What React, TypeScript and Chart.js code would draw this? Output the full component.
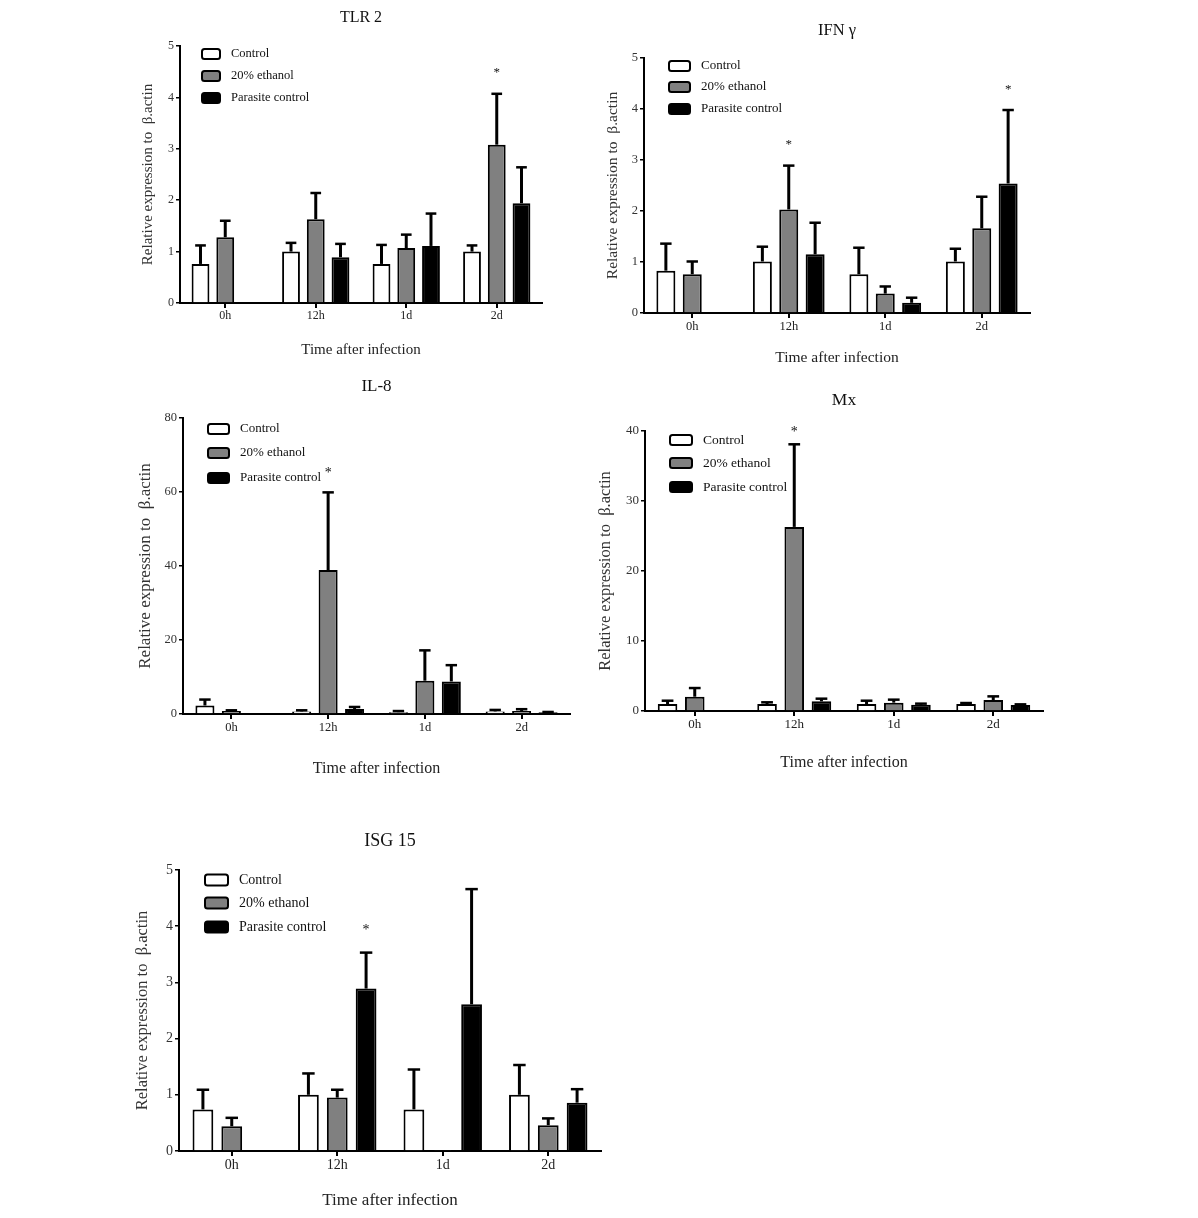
import React, { useEffect, useRef } from 'react';
import { Chart, registerables } from 'chart.js';
Chart.register(...registerables);

const FONT = "'Liberation Serif', 'Times New Roman', Times, serif";

const CATEGORIES = ['0h', '12h', '1d', '2d'];
const SERIES_LABELS = ['Control', '20% ethanol', 'Parasite control'];
const SERIES_COLORS = ['#ffffff', '#808080', '#000000'];
const Y_LABEL = 'Relative expression to  \u03B2.actin';
const X_LABEL = 'Time after infection';

// ---- TLR 2 ----
const TLR2_CONTROL = [0.76, 1.0, 0.76, 1.0];
const TLR2_ETHANOL = [1.28, 1.63, 1.07, 3.08];
const TLR2_PARASITE = [null, 0.89, 1.11, 1.94];
const TLR2_CONTROL_ERR = [1.12, 1.17, 1.13, 1.12];
const TLR2_ETHANOL_ERR = [1.6, 2.14, 1.33, 4.07];
const TLR2_PARASITE_ERR = [null, 1.15, 1.74, 2.64];
const TLR2_STARS = [[3, 1, 4.54]];
const TLR2_Y_MAX = 5;
const TLR2_Y_STEP = 1;

// ---- IFN γ ----
const IFN_CONTROL = [0.83, 1.01, 0.76, 1.01];
const IFN_ETHANOL = [0.76, 2.03, 0.38, 1.66];
const IFN_PARASITE = [null, 1.15, 0.2, 2.54];
const IFN_CONTROL_ERR = [1.36, 1.3, 1.28, 1.26];
const IFN_ETHANOL_ERR = [1.01, 2.89, 0.52, 2.28];
const IFN_PARASITE_ERR = [null, 1.77, 0.3, 3.98];
const IFN_STARS = [[1, 1, 3.36], [3, 2, 4.45]];
const IFN_Y_MAX = 5;
const IFN_Y_STEP = 1;

// ---- IL-8 ----
const IL8_CONTROL = [2.3, 0.7, 0.5, 0.7];
const IL8_ETHANOL = [0.8, 38.9, 9.0, 0.8];
const IL8_PARASITE = [null, 1.35, 8.8, 0.45];
const IL8_CONTROL_ERR = [3.9, 1.0, 0.8, 1.1];
const IL8_ETHANOL_ERR = [1.0, 59.9, 17.2, 1.3];
const IL8_PARASITE_ERR = [null, 1.9, 13.2, 0.55];
const IL8_STARS = [[1, 1, 66]];
const IL8_Y_MAX = 80;
const IL8_Y_STEP = 20;

// ---- Mx ----
const MX_CONTROL = [1.0, 1.0, 1.0, 1.0];
const MX_ETHANOL = [2.04, 26.3, 1.19, 1.57];
const MX_PARASITE = [null, 1.38, 0.9, 0.86];
const MX_CONTROL_ERR = [1.47, 1.24, 1.47, 1.14];
const MX_ETHANOL_ERR = [3.28, 38.1, 1.62, 2.09];
const MX_PARASITE_ERR = [null, 1.76, 1.05, 0.95];
const MX_STARS = [[1, 1, 40.3]];
const MX_Y_MAX = 40;
const MX_Y_STEP = 10;

// ---- ISG 15 ----
const ISG_CONTROL = [0.74, 1.0, 0.74, 1.0];
const ISG_ETHANOL = [0.44, 0.95, 0.02, 0.46];
const ISG_PARASITE = [null, 2.89, 2.61, 0.86];
const ISG_CONTROL_ERR = [1.09, 1.38, 1.45, 1.53];
const ISG_ETHANOL_ERR = [0.59, 1.09, null, 0.58];
const ISG_PARASITE_ERR = [null, 3.53, 4.66, 1.1];
const ISG_STARS = [[1, 2, 3.99]];
const ISG_Y_MAX = 5;
const ISG_Y_STEP = 1;

type Panel = {
  title: string;
  values: (number | null)[][];
  errors: (number | null)[][];
  stars: number[][];
  yMax: number;
  yStep: number;
  geo: { L: number; R: number; T: number; B: number; titleY: number; yLabX: number; xTitleY: number };
  fonts: { title: number; xt: number; yl: number; tick: number; legend: number; star: number };
  legend: { dx: number; boxW: number; boxH: number; textDx: number; rows: number[] };
};

const PANELS: Panel[] = [
  {
    title: 'TLR 2',
    values: [TLR2_CONTROL, TLR2_ETHANOL, TLR2_PARASITE],
    errors: [TLR2_CONTROL_ERR, TLR2_ETHANOL_ERR, TLR2_PARASITE_ERR],
    stars: TLR2_STARS,
    yMax: TLR2_Y_MAX,
    yStep: TLR2_Y_STEP,
    geo: { L: 180, R: 542, T: 46, B: 303, titleY: 18, yLabX: 148, xTitleY: 350 },
    fonts: { title: 16, xt: 15, yl: 15, tick: 12, legend: 12.5, star: 13 },
    legend: { dx: 22, boxW: 18, boxH: 10, textDx: 51, rows: [8, 30, 52] },
  },
  {
    title: 'IFN \u03B3',
    values: [IFN_CONTROL, IFN_ETHANOL, IFN_PARASITE],
    errors: [IFN_CONTROL_ERR, IFN_ETHANOL_ERR, IFN_PARASITE_ERR],
    stars: IFN_STARS,
    yMax: IFN_Y_MAX,
    yStep: IFN_Y_STEP,
    geo: { L: 644, R: 1030, T: 58, B: 313, titleY: 30.5, yLabX: 613, xTitleY: 357.5 },
    fonts: { title: 16.5, xt: 15.5, yl: 15.5, tick: 12.5, legend: 13, star: 13 },
    legend: { dx: 25, boxW: 21, boxH: 10, textDx: 57, rows: [8, 29, 51] },
  },
  {
    title: 'IL-8',
    values: [IL8_CONTROL, IL8_ETHANOL, IL8_PARASITE],
    errors: [IL8_CONTROL_ERR, IL8_ETHANOL_ERR, IL8_PARASITE_ERR],
    stars: IL8_STARS,
    yMax: IL8_Y_MAX,
    yStep: IL8_Y_STEP,
    geo: { L: 183, R: 570, T: 418, B: 714, titleY: 386.5, yLabX: 145, xTitleY: 768.5 },
    fonts: { title: 17, xt: 16, yl: 17, tick: 12.5, legend: 13, star: 14 },
    legend: { dx: 25, boxW: 21, boxH: 10, textDx: 57, rows: [11, 35, 60] },
  },
  {
    title: 'Mx',
    values: [MX_CONTROL, MX_ETHANOL, MX_PARASITE],
    errors: [MX_CONTROL_ERR, MX_ETHANOL_ERR, MX_PARASITE_ERR],
    stars: MX_STARS,
    yMax: MX_Y_MAX,
    yStep: MX_Y_STEP,
    geo: { L: 645, R: 1043, T: 431, B: 711, titleY: 400.5, yLabX: 605.5, xTitleY: 762 },
    fonts: { title: 17.5, xt: 16, yl: 16.5, tick: 13, legend: 13.5, star: 14 },
    legend: { dx: 25, boxW: 22, boxH: 10, textDx: 58, rows: [9, 32, 56] },
  },
  {
    title: 'ISG 15',
    values: [ISG_CONTROL, ISG_ETHANOL, ISG_PARASITE],
    errors: [ISG_CONTROL_ERR, ISG_ETHANOL_ERR, ISG_PARASITE_ERR],
    stars: ISG_STARS,
    yMax: ISG_Y_MAX,
    yStep: ISG_Y_STEP,
    geo: { L: 179, R: 601, T: 870, B: 1151, titleY: 840.5, yLabX: 143, xTitleY: 1201 },
    fonts: { title: 18, xt: 17, yl: 16.5, tick: 14, legend: 14, star: 14 },
    legend: { dx: 26, boxW: 23, boxH: 11, textDx: 60, rows: [10, 33, 57] },
  },
];

const PAD_RIGHT = 15;

function ChartPanel({ p }: { p: Panel }) {
  const ref = useRef<HTMLCanvasElement>(null);
  const g = p.geo;
  const titleLH = p.fonts.title * 1.2;
  const xtLH = p.fonts.xt * 1.2;
  const ylLH = p.fonts.yl * 1.2;
  const left = Math.round(g.yLabX - ylLH / 2);
  const top = Math.round(g.titleY - titleLH / 2);
  const bottom = Math.round(g.xTitleY + xtLH / 2);
  const right = Math.round(g.R + PAD_RIGHT);
  const width = right - left;
  const height = bottom - top;
  const yScaleWidth = g.L - left;
  const xScaleHeight = bottom - g.B;
  const titlePadBottom = g.T - top - titleLH;

  useEffect(() => {
    const canvas = ref.current!;
    const errorPlugin = {
      id: 'errorBars',
      afterDatasetsDraw(chart: any) {
        const ctx = chart.ctx;
        const yScale = chart.scales.y;
        ctx.save();
        ctx.strokeStyle = '#000';
        ctx.lineCap = 'butt';
        p.errors.forEach((errs, di) => {
          const meta = chart.getDatasetMeta(di);
          errs.forEach((ev, i) => {
            const v = p.values[di][i];
            if (ev == null || v == null) return;
            const el: any = meta.data[i];
            const x = el.x;
            const y0 = yScale.getPixelForValue(v);
            const y1 = yScale.getPixelForValue(ev);
            const cap = el.width * 0.3;
            ctx.lineWidth = 3;
            ctx.beginPath();
            ctx.moveTo(x, y0);
            ctx.lineTo(x, y1);
            ctx.stroke();
            ctx.lineWidth = 2.5;
            ctx.beginPath();
            ctx.moveTo(x - cap, y1);
            ctx.lineTo(x + cap, y1);
            ctx.stroke();
          });
        });
        // significance stars
        ctx.fillStyle = '#111';
        ctx.font = `${p.fonts.star}px ${FONT}`;
        ctx.textAlign = 'center';
        ctx.textBaseline = 'alphabetic';
        p.stars.forEach(([ci, di, yv]) => {
          const el: any = chart.getDatasetMeta(di).data[ci];
          const y = yScale.getPixelForValue(yv);
          ctx.fillText('*', el.x, y + p.fonts.star * 0.5);
        });
        ctx.restore();
      },
    };
    const legendPlugin = {
      id: 'insideLegend',
      afterDraw(chart: any) {
        const ctx = chart.ctx;
        const ca = chart.chartArea;
        const lg = p.legend;
        ctx.save();
        chart.data.datasets.forEach((ds: any, i: number) => {
          const cy = ca.top + lg.rows[i];
          const bx = ca.left + lg.dx;
          ctx.beginPath();
          (ctx as any).roundRect(bx, cy - lg.boxH / 2, lg.boxW, lg.boxH, 2.5);
          ctx.fillStyle = ds.backgroundColor;
          ctx.fill();
          ctx.lineWidth = 2;
          ctx.strokeStyle = '#000';
          ctx.stroke();
          ctx.fillStyle = '#111';
          ctx.font = `${p.fonts.legend}px ${FONT}`;
          ctx.textAlign = 'left';
          ctx.textBaseline = 'middle';
          ctx.fillText(ds.label, ca.left + lg.textDx, cy);
        });
        ctx.restore();
      },
    };

    const chart = new Chart(canvas, {
      type: 'bar',
      data: {
        labels: CATEGORIES,
        datasets: SERIES_LABELS.map((label, i) => ({
          label,
          data: p.values[i],
          backgroundColor: SERIES_COLORS[i],
          borderColor: '#000',
          borderWidth: 2,
          categoryPercentage: 0.82,
          barPercentage: 0.72,
        })),
      },
      options: {
        responsive: false,
        animation: false,
        devicePixelRatio: 1,
        layout: { padding: { left: 0, top: 0, right: PAD_RIGHT, bottom: 0 } },
        plugins: {
          legend: { display: false },
          tooltip: { enabled: false },
          title: {
            display: true,
            text: p.title,
            fullSize: false,
            color: '#111',
            font: { family: FONT, size: p.fonts.title, weight: 'normal', lineHeight: 1.2 },
            padding: { top: 0, bottom: titlePadBottom },
          },
        },
        scales: {
          x: {
            type: 'category',
            offset: true,
            grid: {
              display: true,
              offset: false,
              drawOnChartArea: false,
              drawTicks: true,
              tickLength: 5,
              color: '#000',
              lineWidth: 2,
            },
            border: { display: true, color: '#000', width: 2 },
            ticks: {
              color: '#222',
              font: { family: FONT, size: p.fonts.tick },
              padding: 1,
              maxRotation: 0,
            },
            title: {
              display: true,
              text: X_LABEL,
              color: '#222',
              font: { family: FONT, size: p.fonts.xt, lineHeight: 1.2 },
              padding: { top: 0, bottom: 0 },
            },
            afterFit: (s: any) => {
              s.height = xScaleHeight;
            },
          },
          y: {
            min: 0,
            max: p.yMax,
            grid: {
              display: true,
              drawOnChartArea: false,
              drawTicks: true,
              tickLength: 4,
              color: '#000',
              lineWidth: 1.5,
            },
            border: { display: true, color: '#000', width: 2 },
            ticks: {
              stepSize: p.yStep,
              color: '#333',
              font: { family: FONT, size: p.fonts.tick },
              padding: 2,
            },
            title: {
              display: true,
              text: Y_LABEL,
              color: '#333',
              font: { family: FONT, size: p.fonts.yl, lineHeight: 1.2 },
              padding: { top: 0, bottom: 0 },
            },
            afterFit: (s: any) => {
              s.width = yScaleWidth;
            },
          },
        },
      },
      plugins: [errorPlugin, legendPlugin],
    } as any);
    return () => chart.destroy();
  }, []);

  return (
    <canvas
      ref={ref}
      width={width}
      height={height}
      style={{ position: 'absolute', left, top, width, height }}
    />
  );
}

export default function App() {
  return (
    <div style={{ position: 'absolute', left: 0, top: 0, width: 1198, height: 1218, background: '#fff' }}>
      {PANELS.map((p) => (
        <ChartPanel key={p.title} p={p} />
      ))}
    </div>
  );
}
